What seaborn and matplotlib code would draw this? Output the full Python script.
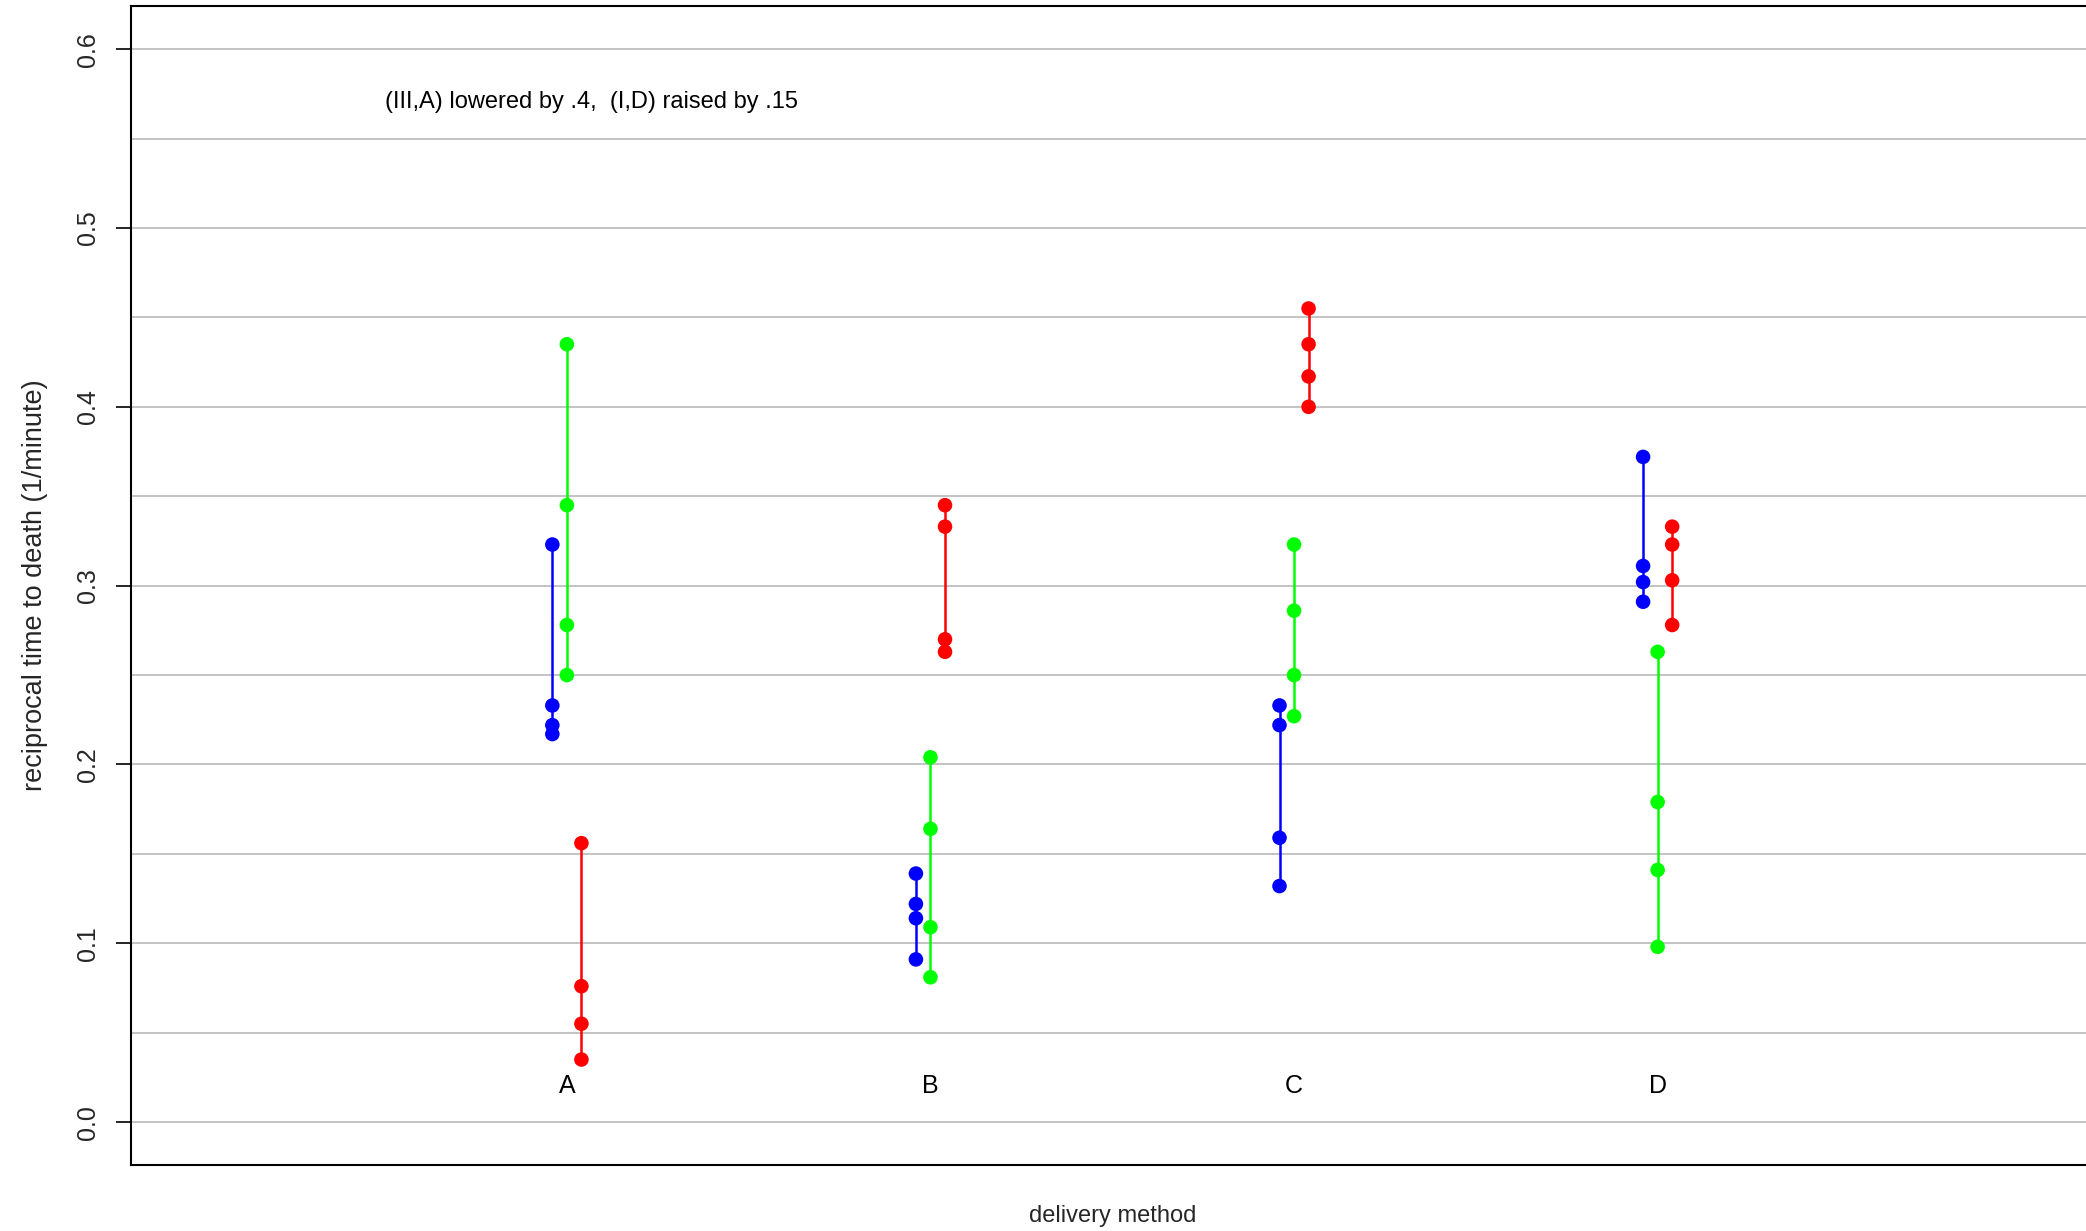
import numpy as np
import pandas as pd
import matplotlib
matplotlib.use("Agg")
import matplotlib.pyplot as plt
import seaborn as sns

# delivery methods and poison types
methods = ["A", "B", "C", "D"]
poisons = ["I", "II", "III"]
poison_colors = {"I": "#0000FF", "II": "#00FF00", "III": "#FF0000"}

# reciprocal time to death (1/minute), four animals per cell
# (III,A) shown lowered by .4 and (I,D) raised by .15
vals_I = {
    "A": [0.323, 0.222, 0.217, 0.233],
    "B": [0.122, 0.091, 0.114, 0.139],
    "C": [0.233, 0.222, 0.159, 0.132],
    "D": [0.372, 0.291, 0.302, 0.311],
}
vals_II = {
    "A": [0.278, 0.345, 0.250, 0.435],
    "B": [0.109, 0.164, 0.204, 0.081],
    "C": [0.227, 0.286, 0.323, 0.250],
    "D": [0.179, 0.098, 0.141, 0.263],
}
vals_III = {
    "A": [0.156, 0.076, 0.055, 0.035],
    "B": [0.333, 0.270, 0.263, 0.345],
    "C": [0.435, 0.400, 0.417, 0.455],
    "D": [0.333, 0.278, 0.323, 0.303],
}
poison_offsets = {"I": -0.04, "II": 0.0, "III": 0.04}

rows = []
for p, table in zip(poisons, [vals_I, vals_II, vals_III]):
    for i, m in enumerate(methods):
        for v in sorted(table[m]):
            rows.append({"method": m, "poison": p, "cell": f"{p}-{m}",
                         "x": i + 1 + poison_offsets[p], "y": v})
df = pd.DataFrame(rows)

sns.set_theme(style="white")
plt.rcParams["font.family"] = ["Liberation Sans", "DejaVu Sans"]

fig = plt.figure(figsize=(20.86, 12.31), dpi=100)
ax = fig.add_axes([0.0626, 0.0536, 0.9412, 0.9413])
ax.set_xlim(-0.2, 5.2)
ax.set_ylim(-0.024, 0.624)

for g in np.arange(0.0, 0.61, 0.05):
    ax.axhline(g, color="#BEBEBE", lw=1.3, zorder=0)

sns.lineplot(data=df, x="x", y="y", hue="poison", palette=poison_colors,
             units="cell", estimator=None, sort=False, lw=1.8,
             legend=False, ax=ax, zorder=2)
sns.scatterplot(data=df, x="x", y="y", hue="poison", palette=poison_colors,
                s=110, linewidth=0, legend=False, ax=ax, zorder=3)

for i, m in enumerate(methods):
    ax.text(i + 1, 0.02, m, ha="center", va="center", fontsize=18, color="black")

ax.text(0.5, 0.5705, "(III,A) lowered by .4,  (I,D) raised by .15",
        ha="left", va="center", fontsize=17, color="black")

for side in ["left", "top", "bottom", "right"]:
    ax.spines[side].set_color("black")
    ax.spines[side].set_linewidth(1.5)

ax.set_xticks([])
ax.set_yticks(np.arange(0.0, 0.61, 0.1))
ax.set_yticklabels([f"{t:.1f}" for t in np.arange(0.0, 0.61, 0.1)],
                   rotation=90, va="center", fontsize=18)
ax.tick_params(axis="y", direction="out", length=11, width=1.2, color="black",
               pad=11, left=True)
ax.set_xlabel("delivery method", fontsize=17, labelpad=29)
ax.set_ylabel("reciprocal time to death (1/minute)", fontsize=19.5, labelpad=20)

fig.savefig("out.png", dpi=100)
